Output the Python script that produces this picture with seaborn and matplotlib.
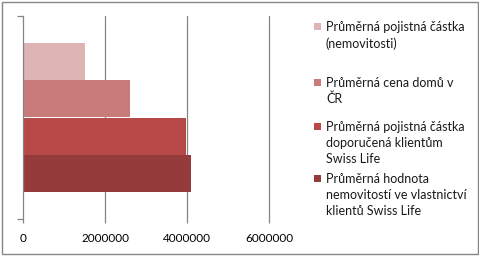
import matplotlib
matplotlib.use("Agg")
import matplotlib.pyplot as plt
from matplotlib.patches import Rectangle
import seaborn as sns
import pandas as pd

series = [
    "Průměrná pojistná částka\n(nemovitosti)",
    "Průměrná cena domů v\nČR",
    "Průměrná pojistná částka\ndoporučená klientům\nSwiss Life",
    "Průměrná hodnota\nnemovitostí ve vlastnictví\nklientů Swiss Life",
]
values = [1500000, 2600000, 3970000, 4100000]
colors = ["#DDB3B3", "#C97B7B", "#B74A48", "#953B3B"]
xticks = [0, 2000000, 4000000, 6000000]
xtick_labels = ["0", "2000000", "4000000", "6000000"]

df = pd.DataFrame({"cat": ["c"] * len(series), "series": series, "value": values})

sns.set_theme(style="white")
plt.rcParams["font.family"] = ["Lato", "DejaVu Sans"]

fig = plt.figure(figsize=(4.79, 2.56), dpi=100)
ax = fig.add_axes([23 / 479, 1 - 219 / 256, (269 - 23) / 479, (219 - 16) / 256])

sns.barplot(data=df, y="cat", x="value", hue="series", hue_order=series,
            palette=colors, orient="h", width=0.73, gap=0, ax=ax,
            saturation=1, legend=False, edgecolor="none", linewidth=0)

ax.set_xlim(0, 6000000)
ax.set_ylim(0.5, -0.5)
ax.set_xticks(xticks)
ax.set_xticklabels(xtick_labels, fontsize=8.5, color="black")
ax.set_yticks([-0.5, 0.5])
ax.set_yticklabels([])
ax.set_xlabel("")
ax.set_ylabel("")
grid_c = "#868686"
for x in xticks[1:]:
    ax.axvline(x, color=grid_c, lw=0.9, zorder=0, clip_on=False)
for s in ["top", "right", "bottom"]:
    ax.spines[s].set_visible(False)
ax.spines["left"].set_color(grid_c)
ax.spines["left"].set_linewidth(0.9)
ax.tick_params(axis="x", length=3, color=grid_c, width=0.9, pad=7, bottom=True)
ax.tick_params(axis="y", length=4, color=grid_c, width=0.9, left=True)

# legend (manual, square aligned with first text line)
first_line_y = [26, 82, 126, 178]
for lab, col, yy in zip(series, colors, first_line_y):
    fig.patches.append(Rectangle((314 / 479, 1 - (yy + 4) / 256), 7 / 479, 7 / 256,
                                 transform=fig.transFigure, facecolor=col,
                                 edgecolor="none"))
    fig.text(326 / 479, 1 - (yy - 5) / 256, lab, fontsize=9, va="top", ha="left",
             color="#1a1a1a", linespacing=1.38)

fig.patches.append(Rectangle((1.5 / 479, 2.5 / 256), 476 / 479, 252 / 256,
                             transform=fig.transFigure, facecolor="none",
                             edgecolor="#868686", lw=1))

fig.savefig("out.png", dpi=100)
